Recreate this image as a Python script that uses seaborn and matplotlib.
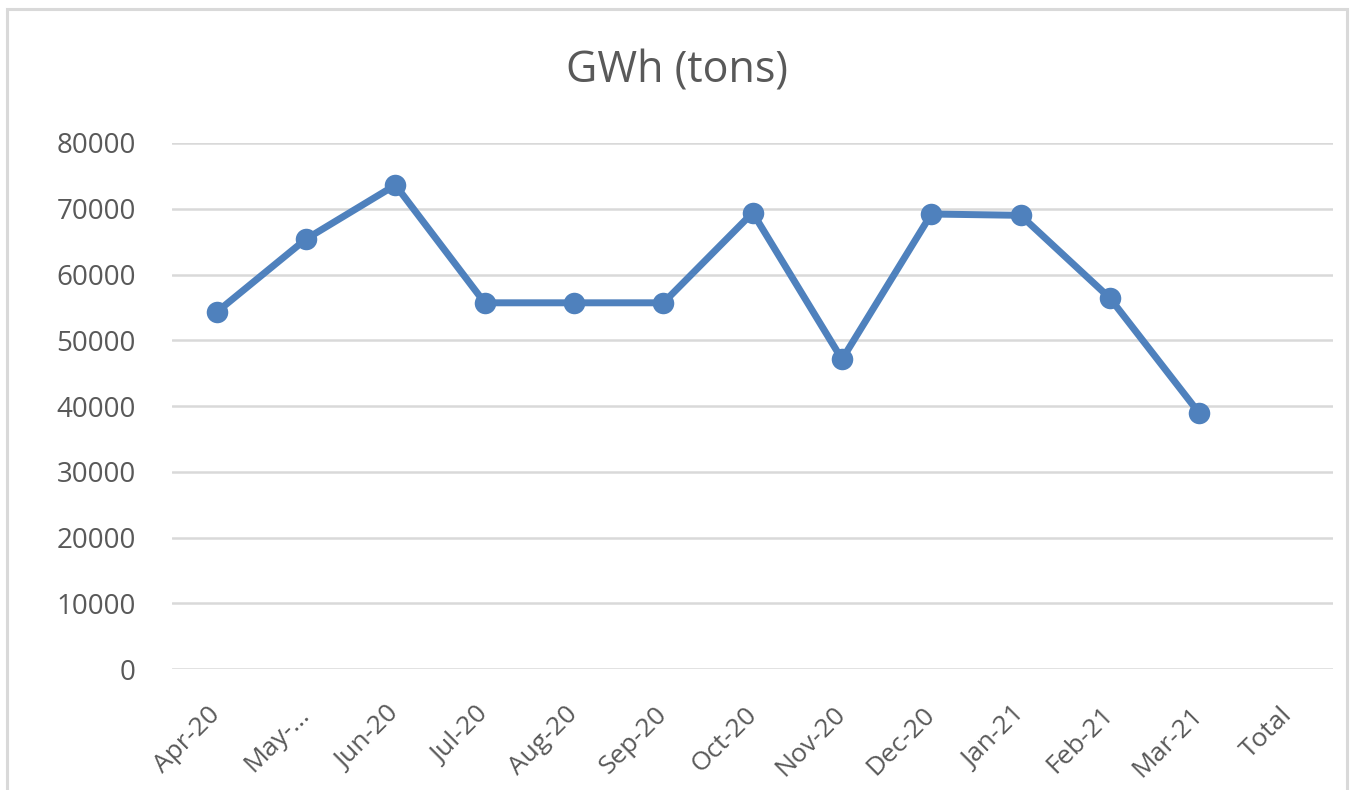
import numpy as np
import pandas as pd
import matplotlib
matplotlib.use("Agg")
import matplotlib.pyplot as plt
import seaborn as sns
from matplotlib.patches import Rectangle

# Chart data
months = ["Apr-20", "May-...", "Jun-20", "Jul-20", "Aug-20", "Sep-20", "Oct-20",
          "Nov-20", "Dec-20", "Jan-21", "Feb-21", "Mar-21", "Total"]
gwh = [54300, 65400, 73600, 55700, 55700, 55700, 69400,
       47100, 69200, 69000, 56400, 38900, np.nan]
y_ticks = [0, 10000, 20000, 30000, 40000, 50000, 60000, 70000, 80000]

df = pd.DataFrame({"pos": np.arange(len(months)), "month": months, "gwh": gwh})

sns.set_theme(style="white")
plt.rcParams['font.family'] = ['Open Sans', 'DejaVu Sans']

text_col = "#595959"
grid_col = "#D9D9D9"
line_col = "#4F81BD"

fig = plt.figure(figsize=(13.55, 7.9), dpi=100)
ax = fig.add_axes([0.127, 0.153, 0.857, 0.666])

sns.lineplot(data=df.dropna(), x="pos", y="gwh", ax=ax, color=line_col,
             linewidth=5, marker="o", markersize=15.5, markeredgewidth=0,
             zorder=3)

ax.set_xlim(-0.5, len(months) - 0.5)
ax.set_ylim(0, 80000)
ax.set_yticks(y_ticks)
ax.set_yticklabels([str(v) for v in y_ticks], fontsize=20, color=text_col)
ax.set_xticks(df["pos"])
ax.set_xticklabels(months, fontsize=19, color=text_col, rotation=45,
                   ha="right", rotation_mode="anchor", va="center")
ax.tick_params(axis="x", length=0, pad=30)
ax.tick_params(axis="y", length=0, pad=26)
ax.set_xlabel("")
ax.set_ylabel("")

ax.grid(axis="y", color=grid_col, linewidth=1.8)
ax.set_axisbelow(True)
for s in ax.spines.values():
    s.set_visible(False)

fig.text(0.5, 0.91, "GWh (tons)", ha="center", va="center",
         fontsize=31, color=text_col)

# light outer frame like the chart area border
fig.patches.append(Rectangle((0.005, -0.05), 0.989, 1.038,
                             transform=fig.transFigure, fill=False,
                             edgecolor=grid_col, linewidth=2.2))

fig.savefig("out.png", dpi=100, facecolor="white")
